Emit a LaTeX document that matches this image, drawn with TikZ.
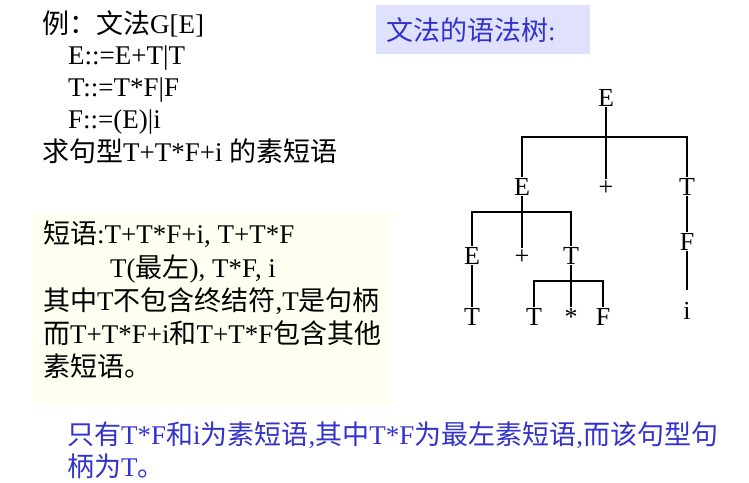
\documentclass[tikz,border=0pt]{standalone}
\usepackage{fontspec}
\setmainfont{Liberation Serif}
\newfontfamily\cjk{Noto Sans CJK SC}
\newcommand{\zh}[1]{{\cjk #1}}
\definecolor{notecolor}{RGB}{51,51,204}
\definecolor{titlebg}{RGB}{224,224,255}
\definecolor{notebg}{RGB}{255,255,242}

\begin{document}
\begin{tikzpicture}[x=1pt,y=-1pt,
  txt/.style={anchor=base west,inner sep=0,font=\fontsize{27}{32}\selectfont},
  tnode/.style={anchor=base,inner xsep=0,inner ysep=1pt,font=\fontsize{26}{30}\selectfont},
  tline/.style={line width=1.1pt}]
\useasboundingbox (0,0) rectangle (749,482);

% grammar
\node[txt] (g0) at (42,33) {\zh{例：文法}G[E]};
\node[txt] (g1) at (68,64) {E::=E+T|T};
\node[txt] (g2) at (68,96) {T::=T*F|F};
\node[txt] (g3) at (68,128) {F::=(E)|i};
\node[txt] (g4) at (42,161) {\zh{求句型}T+T*F+i \zh{的素短语}};

% title
\node[fill=titlebg,anchor=north west,inner sep=0,minimum width=214pt,minimum height=49pt] (titlebox) at (376,5) {};
\node[txt,text=notecolor] (title) at (386,40) {\zh{文法的语法树}:};

% phrases
\node[fill=notebg,anchor=north west,inner sep=0,minimum width=359pt,minimum height=192pt] (phrasebox) at (32,213) {};
\node[txt] (p0) at (43,243) {\zh{短语}:T+T*F+i, T+T*F};
\node[txt] (p1) at (110,277) {T(\zh{最左}), T*F, i};
\node[txt] (p2) at (43,310) {\zh{其中}T\zh{不包含终结符},T\zh{是句柄}};
\node[txt] (p3) at (43,343) {\zh{而}T+T*F+i\zh{和}T+T*F\zh{包含其他}};
\node[txt] (p4) at (43,376) {\zh{素短语。}};

% conclusion
\node[txt,text=notecolor] (c0) at (67,444) {\zh{只有}T*F\zh{和}i\zh{为素短语},\zh{其中}T*F\zh{为最左素短语},\zh{而该句型句}};
\node[txt,text=notecolor] (c1) at (67,476) {\zh{柄为}T\zh{。}};

% tree
\node[tnode] (E0) at (606,106) {E};
\node[tnode] (E1) at (522,195) {E};
\node[tnode] (P1) at (606,195) {+};
\node[tnode] (T1) at (687,195) {T};
\node[tnode] (E2) at (472,264) {E};
\node[tnode] (P2) at (522,264) {+};
\node[tnode] (T2) at (571,264) {T};
\node[tnode] (F2) at (687,250) {F};
\node[tnode] (T3) at (472,325) {T};
\node[tnode] (T4) at (534,325) {T};
\node[tnode] (S4) at (571,325) {*};
\node[tnode] (F4) at (603,325) {F};
\node[tnode] (i3) at (687,319) {i};
\coordinate (b0) at (606,137);
\coordinate (b1) at (522,212);
\coordinate (b2) at (571,281);

\draw[tline]
(E0.south) -- (b0)
(b0) -| (E1.north)
(b0) -- (P1.north)
(b0) -| (T1.north)
(E1.south) -- (b1)
(b1) -| (E2.north)
(b1) -- (P2.north)
(b1) -| (T2.north)
(E2.south) -- (T3.north)
(T2.south) -- (b2)
(b2) -| (T4.north)
(b2) -- (S4.north)
(b2) -| (F4.north)
(T1.south) -- (F2.north);
\draw[tline,shorten >=11pt] (F2.south) -- (i3.north);
\end{tikzpicture}
\end{document}
